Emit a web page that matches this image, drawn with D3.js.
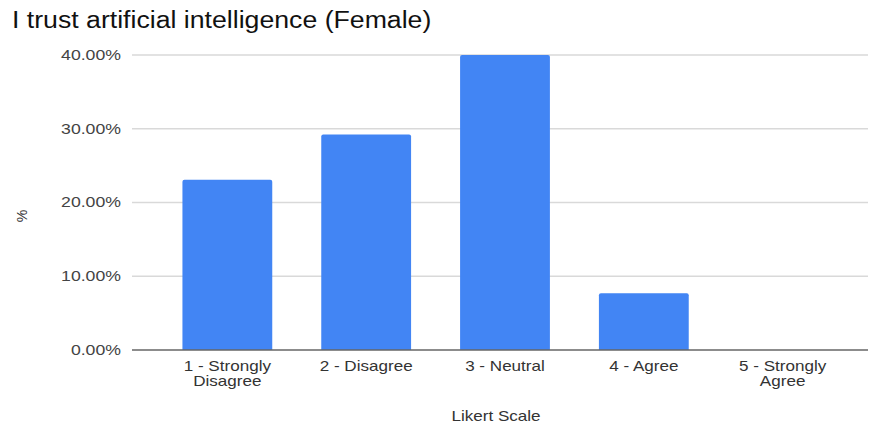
<!DOCTYPE html>
<html>
<head>
  <meta charset="utf-8">
  <script src="https://d3js.org/d3.v7.min.js"></script>
  <style>
    body { margin: 0; background: #fff; }
    text { font-family: "Liberation Sans", Arial, sans-serif; }
    .sx { transform-box: fill-box; transform: scaleX(1.22); }
    .sx-t { transform-box: fill-box; transform: scaleX(1.16); }
    .sx-l { transform-origin: left center; }
    .sx-r { transform-origin: right center; }
    .sx-m { transform-origin: center center; }
  </style>
</head>
<body>
<script>
  // data
  var categories = [["1 - Strongly", "Disagree"], ["2 - Disagree"], ["3 - Neutral"], ["4 - Agree"], ["5 - Strongly", "Agree"]];
  var shares = [23.08, 29.23, 40.0, 7.69, 0];
  var yTicks = [0, 10, 20, 30, 40];

  var width = 870, height = 428;
  var plotLeft = 132, plotRight = 868, plotTop = 55, plotBottom = 350;

  var svg = d3.select("body").append("svg")
    .attr("width", width)
    .attr("height", height);

  var x = d3.scaleBand()
    .domain(d3.range(categories.length))
    .range([158, 852])
    .paddingInner(0.353)
    .paddingOuter(0.176);

  var y = d3.scaleLinear()
    .domain([0, 40])
    .range([plotBottom, plotTop]);

  // title
  svg.append("text")
    .attr("class", "sx-t sx-l")
    .attr("x", 12)
    .attr("y", 28)
    .style("font-size", "23px")
    .style("fill", "#111")
    .text("I trust artificial intelligence (Female)");

  // gridlines
  svg.append("g").selectAll("line")
    .data(yTicks.filter(function(d) { return d > 0; }))
    .join("line")
    .attr("x1", plotLeft)
    .attr("x2", plotRight)
    .attr("y1", function(d) { return y(d); })
    .attr("y2", function(d) { return y(d); })
    .style("stroke", "#d9d9d9")
    .style("stroke-width", 1.3);

  // y tick labels
  svg.append("g").selectAll("text")
    .data(yTicks)
    .join("text")
    .attr("class", "sx sx-r")
    .attr("x", 121)
    .attr("y", function(d) { return y(d) + 5; })
    .attr("text-anchor", "end")
    .style("font-size", "14.5px")
    .style("fill", "#444")
    .text(function(d) { return d.toFixed(2) + "%"; });

  // bars
  svg.append("g").selectAll("path")
    .data(shares)
    .join("path")
    .filter(function(d) { return d > 0; })
    .attr("d", function(d, i) {
      var x0 = x(i), w = x.bandwidth(), y0 = y(d), r = 2;
      return "M" + x0 + "," + plotBottom +
        "V" + (y0 + r) + "Q" + x0 + "," + y0 + " " + (x0 + r) + "," + y0 +
        "H" + (x0 + w - r) + "Q" + (x0 + w) + "," + y0 + " " + (x0 + w) + "," + (y0 + r) +
        "V" + plotBottom + "Z";
    })
    .style("fill", "#4285f4");

  // baseline
  svg.append("line")
    .attr("x1", plotLeft)
    .attr("x2", plotRight)
    .attr("y1", plotBottom)
    .attr("y2", plotBottom)
    .style("stroke", "#666")
    .style("stroke-width", 1.5);

  // category labels
  var cat = svg.append("g").selectAll("g")
    .data(categories)
    .join("g");

  cat.selectAll("text")
    .data(function(d, i) { return d.map(function(s, j) { return { s: s, i: i, j: j }; }); })
    .join("text")
    .attr("class", "sx sx-m")
    .attr("x", function(d) { return x(d.i) + x.bandwidth() / 2; })
    .attr("y", function(d) { return 371 + d.j * 15; })
    .attr("text-anchor", "middle")
    .style("font-size", "14px")
    .style("fill", "#333")
    .text(function(d) { return d.s; });

  // axis titles
  svg.append("text")
    .attr("class", "sx sx-m")
    .attr("x", 496)
    .attr("y", 421)
    .attr("text-anchor", "middle")
    .style("font-size", "14px")
    .style("fill", "#333")
    .text("Likert Scale");

  svg.append("text")
    .attr("transform", "translate(27,216) rotate(-90)")
    .attr("text-anchor", "middle")
    .style("font-size", "14px")
    .style("fill", "#333")
    .text("%");
</script>
</body>
</html>
